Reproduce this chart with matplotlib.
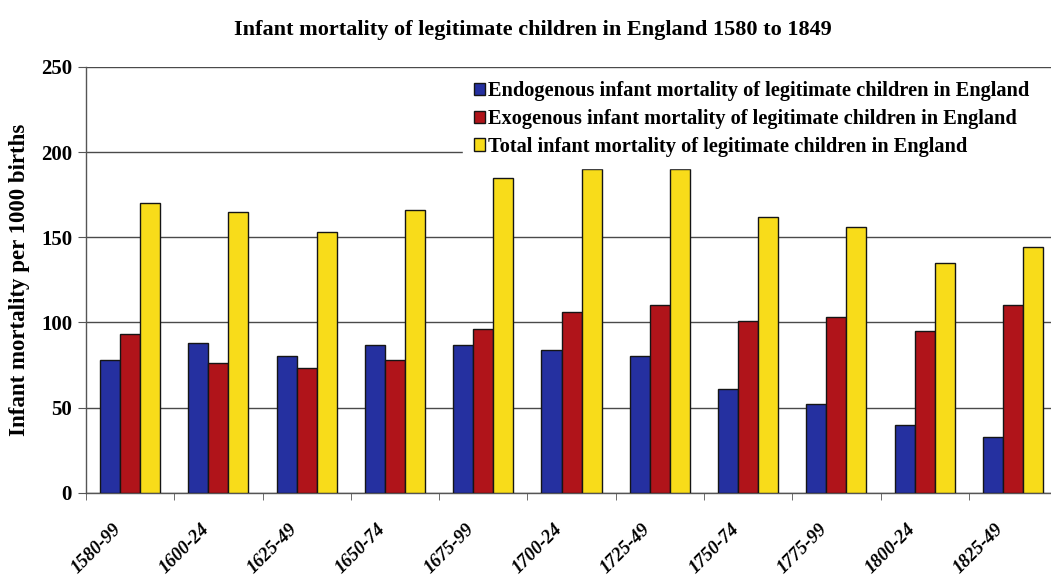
import matplotlib
matplotlib.use("Agg")
import matplotlib.pyplot as plt
import matplotlib.transforms as mtransforms
import numpy as np

periods = ["1580-99", "1600-24", "1625-49", "1650-74", "1675-99", "1700-24",
           "1725-49", "1750-74", "1775-99", "1800-24", "1825-49"]
endogenous = [78, 88, 80, 87, 87, 84, 80, 61, 52, 40, 33]
exogenous = [93, 76, 73, 78, 96, 106, 110, 101, 103, 95, 110]
total = [170, 165, 153, 166, 185, 190, 190, 162, 156, 135, 144]

series_labels = [
    "Endogenous infant mortality of legitimate children in England",
    "Exogenous infant mortality of legitimate children in England",
    "Total infant mortality of legitimate children in England",
]
series_colors = ["#2530a0", "#b0141a", "#f8dc1a"]
y_ticks = [0, 50, 100, 150, 200, 250]

plt.rcParams["font.family"] = ["Liberation Serif", "DejaVu Serif"]
plt.rcParams["font.weight"] = "bold"

fig = plt.figure(figsize=(10.51, 5.75), dpi=100)
ax = fig.add_axes([0.0818, 0.1431, 0.924, 0.7404])

x = np.arange(len(periods))
w = 0.227
for k, (vals, col, lab) in enumerate(zip([endogenous, exogenous, total],
                                         series_colors, series_labels)):
    ax.bar(x + (k - 1) * w, vals, width=w, color=col, edgecolor="#151515",
           linewidth=1.0, label=lab, zorder=3)

ax.set_xlim(-0.5, len(periods) - 0.5)
ax.set_ylim(0, 250)
ax.set_yticks(y_ticks)
ax.yaxis.grid(True, color="#4a4a4a", linewidth=1.0, zorder=0)
ax.set_axisbelow(True)

for s in ["top", "right"]:
    ax.spines[s].set_visible(False)
for s in ["left", "bottom"]:
    ax.spines[s].set_color("#555555")
    ax.spines[s].set_linewidth(1.0)

ax.tick_params(axis="y", direction="out", length=6, color="#555555",
               labelsize=15, pad=4)
ax.set_xticks(x)
ax.set_xticklabels([])
ax.tick_params(axis="x", which="major", length=0)
ax.set_xticks(np.arange(-0.5, len(periods), 1.0), minor=True)
ax.tick_params(axis="x", which="minor", direction="out", length=5,
               color="#555555")

# period labels sit below and slightly left of each group centre
offset = mtransforms.ScaledTranslation(-0.12, -0.34, fig.dpi_scale_trans)
for xi, lab in zip(x, periods):
    ax.text(xi, 0, lab, rotation=45, rotation_mode="anchor", ha="right",
            va="center", fontsize=13.5, fontstyle="italic", fontweight="bold",
            transform=ax.get_xaxis_transform() + offset)

ax.set_ylabel("Infant mortality per 1000 births", fontsize=16.5,
              fontweight="bold", labelpad=8)

fig.text(0.507, 0.947, "Infant mortality of legitimate children in England 1580 to 1849",
         ha="center", va="center", fontsize=16, fontweight="bold")

leg = ax.legend(loc="upper left", bbox_to_anchor=(0.388, 0.993, 0.62, 0.0),
                mode="expand",
                frameon=True, fancybox=False, edgecolor="white",
                framealpha=1.0, fontsize=14.7, handlelength=0.55,
                handleheight=0.55, handletextpad=0.15, labelspacing=0.38,
                borderpad=0.55, borderaxespad=0)
for h in leg.legend_handles:
    h.set_edgecolor("#151515")
leg.set_zorder(5)

fig.savefig("out.png", dpi=100)
